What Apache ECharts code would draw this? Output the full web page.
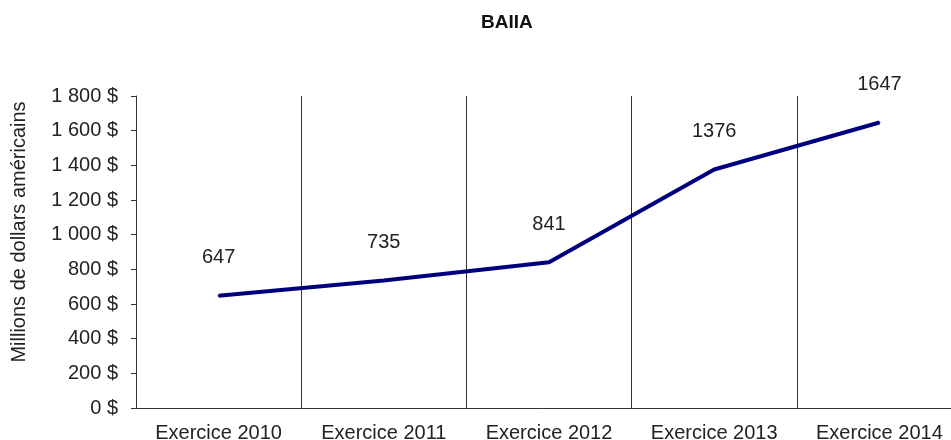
<!DOCTYPE html>
<html>
<head>
<meta charset="utf-8">
<script src="https://cdn.jsdelivr.net/npm/echarts@6.0.0/dist/echarts.min.js"></script>
<style>
  html, body { margin: 0; padding: 0; background: #fff; }
  #chart { width: 951px; height: 440px; }
</style>
</head>
<body>
<div id="chart"></div>
<script>
// BAIIA par exercice (millions $ US)
const years = ['Exercice 2010', 'Exercice 2011', 'Exercice 2012', 'Exercice 2013', 'Exercice 2014'];
const baiia = [647, 735, 841, 1376, 1647];

const font = '"Liberation Sans", Arial, sans-serif';

function fmtDollars(v) {
    // 1800 -> "1 800 $"
    return String(v).replace(/\B(?=(\d{3})+(?!\d))/g, ' ') + ' $';
}

const chart = echarts.init(document.getElementById('chart'));

chart.setOption({
    animation: false,
    backgroundColor: '#fff',
    title: {
        text: 'BAIIA',
        left: 476,
        top: 8,
        textStyle: { fontFamily: font, fontSize: 19, fontWeight: 'bold', color: '#111' }
    },
    grid: {
        left: 136,
        right: -11,
        top: 96,
        bottom: 32,
        containLabel: false,
        outerBoundsMode: 'none'
    },
    xAxis: {
        type: 'category',
        data: years,
        boundaryGap: true,
        axisLine: { lineStyle: { color: '#333', width: 1 } },
        axisTick: { show: false },
        axisLabel: { interval: 0, fontFamily: font, fontSize: 20, color: '#222', margin: 15 },
        splitLine: { show: true, interval: 0, lineStyle: { color: '#333', width: 1 } }
    },
    yAxis: {
        type: 'value',
        min: 0,
        max: 1800,
        interval: 200,
        name: 'Millions de dollars américains',
        nameLocation: 'middle',
        nameGap: 107,
        nameTextStyle: { fontFamily: font, fontSize: 20, color: '#222', padding: [0, 0, 0, 40] },
        axisLine: { show: true, lineStyle: { color: '#333', width: 1 } },
        axisTick: { show: true, length: 5, lineStyle: { color: '#333' } },
        axisLabel: { fontFamily: font, fontSize: 20, color: '#222', margin: 18, formatter: fmtDollars },
        splitLine: { show: false }
    },
    series: [{
        type: 'line',
        data: baiia,
        symbol: 'circle',
        symbolSize: 2,
        showSymbol: true,
        itemStyle: { color: '#00007f' },
        lineStyle: { color: '#00007f', width: 4 },
        label: {
            show: true,
            position: 'top',
            distance: 27,
            fontFamily: font,
            fontSize: 20,
            color: '#222'
        }
    }]
});
</script>
</body>
</html>
